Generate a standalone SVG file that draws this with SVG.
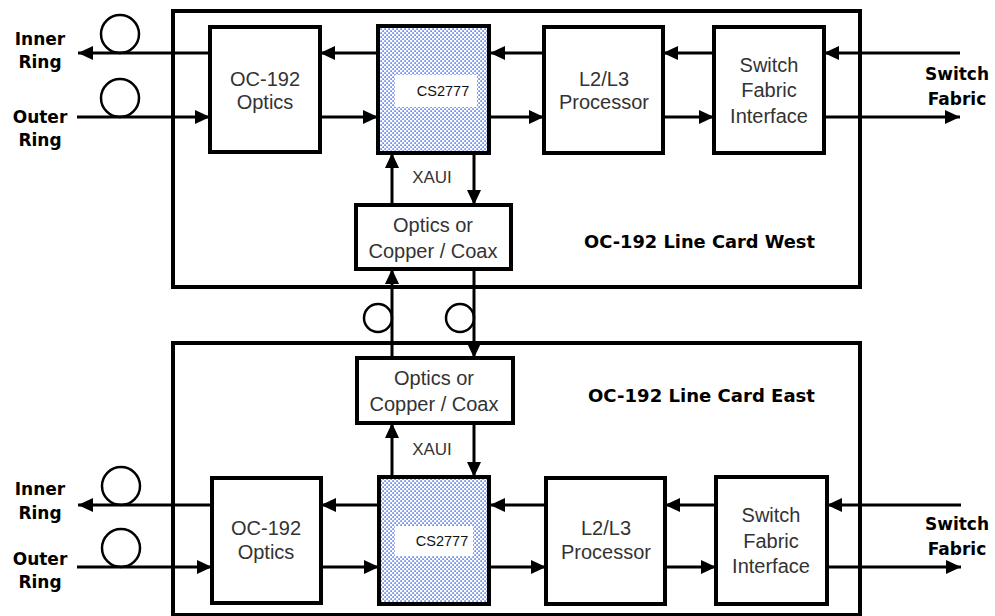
<svg xmlns="http://www.w3.org/2000/svg" width="995" height="616" viewBox="0 0 995 616">
<style>
.card{fill:none;stroke:#000;stroke-width:4}
.box{fill:#fff;stroke:#000;stroke-width:4}
.chip{fill:url(#dots);stroke:#000;stroke-width:4}
.ln{fill:none;stroke:#000;stroke-width:3}
.arr{fill:none;stroke:#000;stroke-width:3;marker-end:url(#ah)}
.ring{fill:none;stroke:#000;stroke-width:2.5}
.t{font-family:"Liberation Sans",Arial,sans-serif;font-size:20px;fill:#333;text-anchor:middle}
.x{font-family:"Liberation Sans",Arial,sans-serif;font-size:17px;fill:#333;text-anchor:middle}
.c{font-family:"Liberation Sans",Arial,sans-serif;font-size:14.5px;fill:#111;text-anchor:middle}
.b{font-family:"DejaVu Sans",Verdana,sans-serif;font-weight:bold;font-size:17px;fill:#000;text-anchor:middle}
.bl{font-family:"DejaVu Sans",Verdana,sans-serif;font-weight:bold;font-size:18px;fill:#000}
</style>
<defs>
<marker id="ah" markerUnits="userSpaceOnUse" markerWidth="15" markerHeight="14" refX="15" refY="7" orient="auto">
<path d="M0,0 L15,7 L0,14 z" fill="#000"/>
</marker>
<pattern id="dots" width="4" height="4" patternUnits="userSpaceOnUse">
<rect width="4" height="4" fill="#fff"/>
<rect x="0.3" y="0.3" width="1.6" height="1.6" fill="#4f78f2"/>
<rect x="2.3" y="2.3" width="1.6" height="1.6" fill="#4f78f2"/>
</pattern>
</defs>
<rect width="995" height="616" fill="#fff"/>

<g id="card-west">
<rect class="card" x="173" y="11" width="687" height="276"/>
<text class="bl" x="584" y="248" textLength="231" lengthAdjust="spacingAndGlyphs">OC-192 Line Card West</text>
</g>
<g id="card-east">
<rect class="card" x="173" y="343" width="687" height="272"/>
<text class="bl" x="588" y="402" textLength="227" lengthAdjust="spacingAndGlyphs">OC-192 Line Card East</text>
</g>

<g id="labels">
<text class="b" x="40" y="45">Inner</text>
<text class="b" x="40" y="68">Ring</text>
<text class="b" x="40" y="123">Outer</text>
<text class="b" x="40" y="146">Ring</text>
<text class="b" x="957" y="80">Switch</text>
<text class="b" x="957" y="105">Fabric</text>
<text class="b" x="40" y="495">Inner</text>
<text class="b" x="40" y="519">Ring</text>
<text class="b" x="40" y="565">Outer</text>
<text class="b" x="40" y="588">Ring</text>
<text class="b" x="957" y="530">Switch</text>
<text class="b" x="957" y="555">Fabric</text>
</g>

<g id="connectors">
<line class="arr" x1="210" y1="53" x2="78" y2="53"/>
<line class="arr" x1="77" y1="117" x2="210" y2="117"/>
<line class="arr" x1="378" y1="53" x2="320" y2="53"/>
<line class="arr" x1="320" y1="117" x2="378" y2="117"/>
<line class="arr" x1="544" y1="53" x2="490" y2="53"/>
<line class="arr" x1="489" y1="117" x2="544" y2="117"/>
<line class="arr" x1="714" y1="53" x2="663" y2="53"/>
<line class="arr" x1="663" y1="117" x2="714" y2="117"/>
<line class="arr" x1="960" y1="53" x2="824" y2="53"/>
<line class="arr" x1="824" y1="117" x2="960" y2="117"/>
<line class="arr" x1="392" y1="205" x2="392" y2="153"/>
<line class="arr" x1="474" y1="153" x2="474" y2="205"/>
<line class="arr" x1="392" y1="358" x2="392" y2="269"/>
<line class="arr" x1="474" y1="269" x2="474" y2="358"/>
<line class="arr" x1="212" y1="505" x2="78" y2="505"/>
<line class="arr" x1="77" y1="567" x2="212" y2="567"/>
<line class="arr" x1="379" y1="505" x2="321" y2="505"/>
<line class="arr" x1="321" y1="567" x2="379" y2="567"/>
<line class="arr" x1="546" y1="505" x2="490" y2="505"/>
<line class="arr" x1="489" y1="567" x2="546" y2="567"/>
<line class="arr" x1="716" y1="505" x2="665" y2="505"/>
<line class="arr" x1="665" y1="567" x2="716" y2="567"/>
<line class="arr" x1="961" y1="505" x2="827" y2="505"/>
<line class="arr" x1="827" y1="567" x2="961" y2="567"/>
<line class="arr" x1="392" y1="477" x2="392" y2="423"/>
<line class="arr" x1="474" y1="423" x2="474" y2="477"/>
<circle class="ring" cx="120" cy="34" r="19"/>
<circle class="ring" cx="120" cy="98" r="19"/>
<circle class="ring" cx="121" cy="486" r="19"/>
<circle class="ring" cx="121" cy="548" r="19"/>
<circle class="ring" cx="378" cy="318" r="14"/>
<circle class="ring" cx="460" cy="318" r="14"/>
</g>

<g id="west-optics">
<rect class="box" x="210" y="27" width="110" height="125"/>
<text class="t" x="265" y="86">OC-192</text>
<text class="t" x="265" y="109">Optics</text>
</g>
<g id="west-cs2777">
<rect class="chip" x="378" y="26" width="111" height="127"/>
<rect x="395" y="75" width="82" height="32" fill="#fff"/>
<text class="c" x="443" y="96">CS2777</text>
</g>
<g id="west-l2l3">
<rect class="box" x="544" y="27" width="119" height="126"/>
<text class="t" x="604" y="86">L2/L3</text>
<text class="t" x="604" y="109">Processor</text>
</g>
<g id="west-sfi">
<rect class="box" x="714" y="27" width="110" height="126"/>
<text class="t" x="769" y="72">Switch</text>
<text class="t" x="769" y="97">Fabric</text>
<text class="t" x="769" y="123">Interface</text>
</g>
<g id="west-xaui">
<text class="x" x="432" y="183">XAUI</text>
</g>
<g id="west-copper">
<rect class="box" x="356" y="205" width="155" height="64"/>
<text class="t" x="433" y="232">Optics or</text>
<text class="t" x="433" y="258">Copper / Coax</text>
</g>

<g id="east-copper">
<rect class="box" x="357" y="358" width="156" height="65"/>
<text class="t" x="434" y="385">Optics or</text>
<text class="t" x="434" y="411">Copper / Coax</text>
</g>
<g id="east-xaui">
<text class="x" x="432" y="455">XAUI</text>
</g>
<g id="east-optics">
<rect class="box" x="212" y="478" width="109" height="125"/>
<text class="t" x="266" y="535">OC-192</text>
<text class="t" x="266" y="559">Optics</text>
</g>
<g id="east-cs2777">
<rect class="chip" x="379" y="477" width="110" height="127"/>
<rect x="395" y="526" width="78" height="30" fill="#fff"/>
<text class="c" x="442" y="546">CS2777</text>
</g>
<g id="east-l2l3">
<rect class="box" x="546" y="478" width="119" height="126"/>
<text class="t" x="606" y="535">L2/L3</text>
<text class="t" x="606" y="559">Processor</text>
</g>
<g id="east-sfi">
<rect class="box" x="716" y="477" width="111" height="127"/>
<text class="t" x="771" y="522">Switch</text>
<text class="t" x="771" y="548">Fabric</text>
<text class="t" x="771" y="573">Interface</text>
</g>
</svg>
